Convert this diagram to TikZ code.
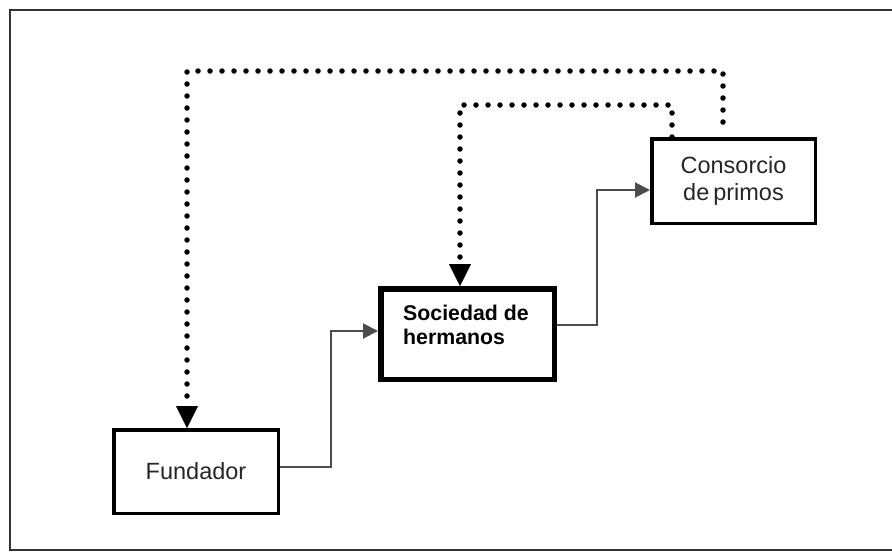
\documentclass[tikz,border=0pt]{standalone}
\usepackage{fontspec}
\setmainfont{Liberation Sans}
\usetikzlibrary{arrows.meta}
\begin{document}
\begin{tikzpicture}[x=1pt,y=-1pt,
  box/.style={draw=black, line width=3.5pt, fill=white, inner sep=0pt, align=center,
    font=\fontsize{23.5}{27}\selectfont, text=black!85},
  conn/.style={draw=black!70, line width=2pt, -{Triangle[width=15pt,length=15pt]}},
  dots/.style={line width=5.5pt, line cap=round, dash pattern=on 0pt off 12pt,
    -{Triangle[width=22pt,length=22pt,line width=0.1pt]}},
  frame/.style={draw=black!80, line width=2pt}]
\useasboundingbox (0,0) rectangle (892,552);
\draw[frame] (892,10) -- (10,10) -- (10,550) -- (892,550);

\node[box, minimum width=164.5pt, minimum height=83.5pt] (fund) at (196,471.5) {Fundador};
\node[box, line width=5.5pt, minimum width=173.5pt, minimum height=90.5pt] (soc) at (467.5,334) {};
\node[anchor=north west, inner sep=0pt, align=left, font=\bfseries\fontsize{21.3}{24}\selectfont]
  (soclbl) at (403,304.5) {Sociedad de\\hermanos};
\node[box, minimum width=163.5pt, minimum height=84.5pt] (cons) at (733.5,181) {Consorcio\\de\,primos};

\draw[conn] ([yshift=4.5pt]fund.east) -| (331,331) -- ([yshift=3pt]soc.west);
\draw[conn] ([yshift=9pt]soc.east) -| (597,190) -- ([yshift=-9pt]cons.west);

\coordinate (o1) at (723,122);
\coordinate (o2) at (723,71);
\coordinate (i2) at (672,105);
\draw[dots] (o1) -- (o2) -| ([xshift=-9pt]fund.north);
\draw[dots] ([xshift=-61.5pt]cons.north) -- (i2) -| ([xshift=-7.5pt]soc.north);
\end{tikzpicture}
\end{document}
